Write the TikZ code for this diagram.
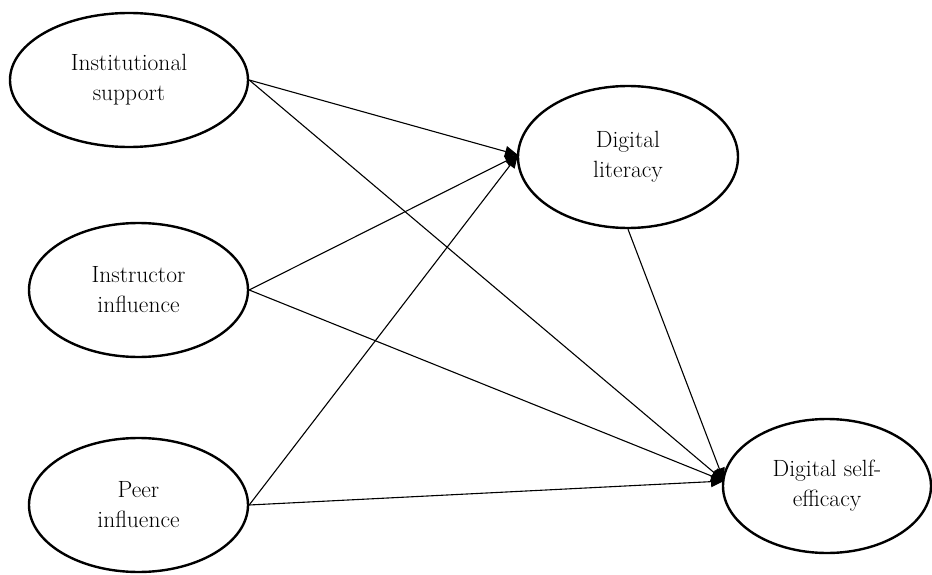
\documentclass[tikz,border=0pt]{standalone}
\usetikzlibrary{shapes.geometric,arrows.meta}
\begin{document}
\begin{tikzpicture}[x=1pt,y=-1pt,
  latent/.style={ellipse,draw,line width=2.4pt,inner sep=0pt,align=center,
    font=\fontsize{23.5}{30}\selectfont},
  path/.style={line width=1.1pt,-{Triangle[length=13pt,width=11pt]}}]
\useasboundingbox (0,0) rectangle (932,575);
\node[latent,minimum width=238pt,minimum height=134pt] (is) at (129,80) {Institutional\\support};
\node[latent,minimum width=219pt,minimum height=134pt] (ii) at (138.5,290) {Instructor\\influence};
\node[latent,minimum width=219pt,minimum height=134pt] (pi) at (138.5,505) {Peer\\influence};
\node[latent,minimum width=220pt,minimum height=142pt] (dl) at (628,157) {Digital\\literacy};
\node[latent,minimum width=208pt,minimum height=134pt] (dse) at (827,486) {Digital self-\\efficacy};
\coordinate (dlin) at (518,155);
\coordinate (dsein) at (724,481);
\draw[path] (is.east) -- (dlin);
\draw[path] (ii.east) -- (dlin);
\draw[path] (pi.east) -- (dlin);
\draw[path] (is.east) -- (dsein);
\draw[path] (ii.east) -- (dsein);
\draw[path] (pi.east) -- (dsein);
\draw[path] (dl.south) -- (dsein);
\end{tikzpicture}
\end{document}
